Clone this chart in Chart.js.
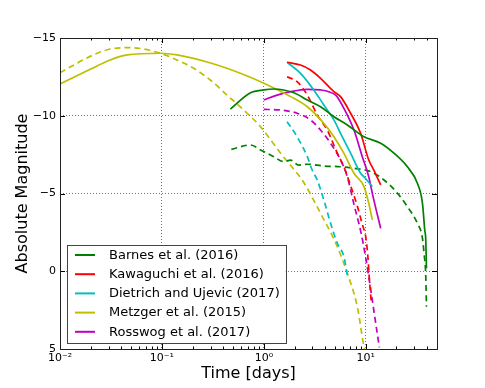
<!DOCTYPE html>
<html>
<head>
<meta charset="utf-8">
<script src="https://cdn.jsdelivr.net/npm/chart.js@4.4.0/dist/chart.umd.min.js"></script>
<style>
html, body { margin: 0; padding: 0; background: #fff; }
</style>
</head>
<body>
<canvas id="lightcurves" width="485" height="388"></canvas>
<script>
// axis setup
const xMin = 0.01, xMax = 50;
const yMin = -15, yMax = 5;
const xTickValues = [0.01, 0.1, 1, 10];
const xTickLabels = ['10\u207B\u00B2', '10\u207B\u00B9', '10\u2070', '10\u00B9'];
const yTickValues = [-15, -10, -5, 0, 5];

const labels = ['Barnes et al. (2016)', 'Kawaguchi et al. (2016)', 'Dietrich and Ujevic (2017)',
    'Metzger et al. (2015)', 'Rosswog et al. (2017)'];
const colors = ['#008000', '#ff0000', '#00bfbf', '#bfbf00', '#bf00bf'];

// Barnes et al.
const barnesT = [0.47, 0.74, 1.0, 1.25, 1.97, 2.67, 3.6, 4.87, 6.59, 9.6, 14.0, 18.9, 25.6, 32.1, 36.0, 37.9, 38.8, 39.4];
const barnesM = [-10.43, -11.48, -11.66, -11.72, -11.48, -11.01, -10.58, -9.94, -9.41, -8.65, -8.23, -7.59, -6.72, -5.66, -4.37, -2.65, -2.01, -0.19];
const barnesDashT = [0.48, 0.74, 0.93, 1.25, 1.57, 1.83, 2.2, 2.67, 3.88, 5.66, 7.66, 11.2, 15.1, 20.5, 25.6, 32.1, 36.0, 37.3, 38.8, 39.4];
const barnesDashM = [-7.84, -8.12, -7.80, -7.37, -7.05, -7.15, -6.83, -6.88, -6.77, -6.72, -6.62, -6.40, -5.87, -5.01, -4.15, -3.08, -2.12, -1.15, 0.35, 2.28];

// Kawaguchi et al.
const kawaT = [1.69, 2.29, 2.87, 3.6, 4.87, 5.66, 7.1, 8.9, 10.7, 12.0, 14.0];
const kawaM = [-13.44, -13.26, -12.94, -12.41, -11.55, -11.23, -10.16, -8.87, -7.15, -6.51, -5.55];
const kawaDashT = [1.69, 2.12, 2.67, 3.34, 4.19, 5.26, 6.1, 7.1, 8.26, 9.26, 10.0, 10.5, 10.8, 11.2, 11.35];
const kawaDashM = [-12.51, -12.19, -11.33, -10.05, -9.08, -7.59, -6.72, -5.5, -4.2, -3.0, -2.2, -0.9, 0.3, 1.6, 2.0];

// Dietrich and Ujevic
const dietT = [1.69, 2.29, 3.09, 3.88, 4.87, 5.66, 7.1, 8.9, 9.6, 11.6];
const dietM = [-13.44, -12.73, -11.66, -10.69, -9.73, -8.87, -7.59, -6.30, -6.08, -5.44];
const dietDashT = [1.69, 2.12, 2.67, 2.98, 3.34, 3.88, 4.52, 5.26, 6.1, 6.59];
const dietDashM = [-9.62, -8.65, -7.37, -6.51, -5.87, -4.58, -3.08, -1.80, -0.94, 0.24];

// Metzger et al.
const metzT = [0.01, 0.02, 0.031, 0.0456, 0.096, 0.141, 0.30, 0.589, 1.0, 1.83, 2.67, 3.88, 4.87, 6.11, 7.66, 9.6, 10.7, 11.6];
const metzM = [-12.04, -13.0, -13.59, -13.91, -14.02, -13.91, -13.39, -12.73, -12.09, -11.23, -10.58, -9.51, -8.65, -7.58, -6.30, -5.44, -4.37, -3.30];
const metzDashT = [0.01, 0.0212, 0.031, 0.0488, 0.096, 0.140, 0.205, 0.298, 0.435, 0.634, 0.926, 1.46, 2.12, 2.38, 3.60, 5.26, 6.59, 8.26, 9.6, 9.9];
const metzDashM = [-12.77, -13.91, -14.29, -14.38, -14.02, -13.59, -13.05, -12.30, -11.33, -10.37, -9.30, -7.59, -6.30, -5.87, -3.73, -1.58, 0.13, 2.28, 4.85, 5.2];

// Rosswog et al.
const rossT = [1.0, 1.35, 1.83, 2.67, 3.6, 5.06, 5.26, 6.1, 7.66, 9.25, 10.7, 11.6, 14.0];
const rossM = [-11.01, -11.33, -11.55, -11.70, -11.66, -11.33, -11.2, -10.48, -9.08, -7.37, -6.08, -5.01, -2.76];
const rossDashT = [1.0, 1.46, 2.12, 2.87, 3.6, 4.52, 5.66, 6.59, 7.66, 8.9, 9.98, 11.2, 12.3, 13.6];
const rossDashM = [-10.41, -10.37, -10.16, -9.73, -9.08, -8.23, -7.15, -6.08, -4.3, -2.6, -0.9, 1.2, 3.0, 4.9];

const solid = [[barnesT, barnesM], [kawaT, kawaM], [dietT, dietM], [metzT, metzM], [rossT, rossM]];
const dashed = [[barnesDashT, barnesDashM], [kawaDashT, kawaDashM], [dietDashT, dietDashM], [metzDashT, metzDashM], [rossDashT, rossDashM]];

function toPoints(ts, ms) {
    return ts.map((t, i) => ({x: t, y: ms[i]}));
}

const datasets = [];
solid.forEach((s, i) => {
    datasets.push({
        label: labels[i],
        data: toPoints(s[0], s[1]),
        borderColor: colors[i],
        borderWidth: 1.7,
        pointRadius: 0,
        cubicInterpolationMode: 'monotone'
    });
});
dashed.forEach((s, i) => {
    datasets.push({
        label: labels[i] + ' (dashed)',
        data: toPoints(s[0], s[1]),
        borderColor: colors[i],
        borderWidth: 1.7,
        borderDash: [6, 4],
        pointRadius: 0,
        cubicInterpolationMode: 'monotone'
    });
});

// frame + inward ticks like matplotlib
const frameTicks = {
    id: 'frameTicks',
    afterDatasetsDraw(chart) {
        const {ctx, chartArea: a, scales: {x, y}} = chart;
        ctx.save();
        ctx.strokeStyle = '#000';
        ctx.lineWidth = 1;
        ctx.beginPath();
        for (let d = -2; d <= 1; d++) {
            for (let k = 1; k <= 9; k++) {
                const v = k * Math.pow(10, d);
                if (v > xMax) break;
                const px = Math.round(x.getPixelForValue(v)) + 0.5;
                const len = k === 1 ? 5 : 2.5;
                ctx.moveTo(px, a.bottom);
                ctx.lineTo(px, a.bottom - len);
                ctx.moveTo(px, a.top);
                ctx.lineTo(px, a.top + len);
            }
        }
        yTickValues.forEach(v => {
            const py = Math.round(y.getPixelForValue(v)) + 0.5;
            ctx.moveTo(a.left, py);
            ctx.lineTo(a.left + 5, py);
            ctx.moveTo(a.right, py);
            ctx.lineTo(a.right - 5, py);
        });
        ctx.stroke();
        ctx.strokeStyle = '#222';
        ctx.strokeRect(Math.round(a.left) + 0.5, Math.round(a.top) + 0.5,
            Math.round(a.right - a.left), Math.round(a.bottom - a.top));
        ctx.restore();
    }
};

// legend box in the lower left of the axes
const legendBox = {
    id: 'legendBox',
    afterDraw(chart) {
        const {ctx, chartArea: a} = chart;
        ctx.save();
        ctx.font = '13px "DejaVu Sans"';
        let maxW = 0;
        labels.forEach(l => { maxW = Math.max(maxW, ctx.measureText(l).width); });
        const rowH = 19.2;
        const left = a.left + 7;
        const bottom = a.bottom - 6;
        const h = rowH * labels.length + 2;
        const top = bottom - h;
        const w = 42 + maxW + 6;
        ctx.fillStyle = '#fff';
        ctx.fillRect(left, top, w, h);
        ctx.strokeStyle = '#444';
        ctx.lineWidth = 1;
        ctx.strokeRect(Math.round(left) + 0.5, Math.round(top) + 0.5, Math.round(w), Math.round(h));
        labels.forEach((l, i) => {
            const cy = top + 10 + i * rowH;
            ctx.strokeStyle = colors[i];
            ctx.lineWidth = 2;
            ctx.beginPath();
            ctx.moveTo(left + 8, cy);
            ctx.lineTo(left + 28, cy);
            ctx.stroke();
            ctx.fillStyle = '#000';
            ctx.textBaseline = 'middle';
            ctx.fillText(l, left + 42, cy + 0.5);
        });
        ctx.restore();
    }
};

const ctx = document.getElementById('lightcurves');
const chart = new Chart(ctx, {
    type: 'line',
    data: { datasets: datasets },
    options: {
        responsive: false,
        animation: false,
        layout: { padding: { top: 38, right: 48, bottom: 0, left: 0 } },
        plugins: {
            legend: { display: false },
            tooltip: { enabled: false }
        },
        scales: {
            x: {
                type: 'logarithmic',
                min: xMin,
                max: xMax,
                afterBuildTicks: (scale) => {
                    scale.ticks = xTickValues.map(v => ({value: v}));
                },
                afterFit: (scale) => { scale.height = 39; },
                grid: { color: 'rgba(0,0,0,0.55)', lineWidth: 1, drawTicks: false },
                border: { display: false, dash: [1, 2] },
                ticks: {
                    padding: 3,
                    color: '#000',
                    font: { family: 'DejaVu Sans', size: 11 },
                    maxRotation: 0,
                    autoSkip: false,
                    callback: (v) => {
                        const i = xTickValues.findIndex(t => Math.abs(t - v) / t < 1e-6);
                        return i >= 0 ? xTickLabels[i] : '';
                    }
                },
                title: {
                    display: true,
                    text: 'Time [days]',
                    color: '#000',
                    font: { family: 'DejaVu Sans', size: 16 },
                    padding: { top: 0, bottom: 5 }
                }
            },
            y: {
                type: 'linear',
                reverse: true,
                min: yMin,
                max: yMax,
                afterBuildTicks: (scale) => {
                    scale.ticks = yTickValues.map(v => ({value: v}));
                },
                afterFit: (scale) => { scale.width = 60; },
                grid: { color: 'rgba(0,0,0,0.55)', lineWidth: 1, drawTicks: false },
                border: { display: false, dash: [1, 2] },
                ticks: {
                    padding: 4,
                    color: '#000',
                    font: { family: 'DejaVu Sans', size: 11 },
                    callback: (v) => v < 0 ? '\u2212' + Math.abs(v) : String(v)
                },
                title: {
                    display: true,
                    text: 'Absolute Magnitude',
                    color: '#000',
                    font: { family: 'DejaVu Sans', size: 16 },
                    padding: { top: 13, bottom: 0 }
                }
            }
        }
    },
    plugins: [frameTicks, legendBox]
});
</script>
</body>
</html>
